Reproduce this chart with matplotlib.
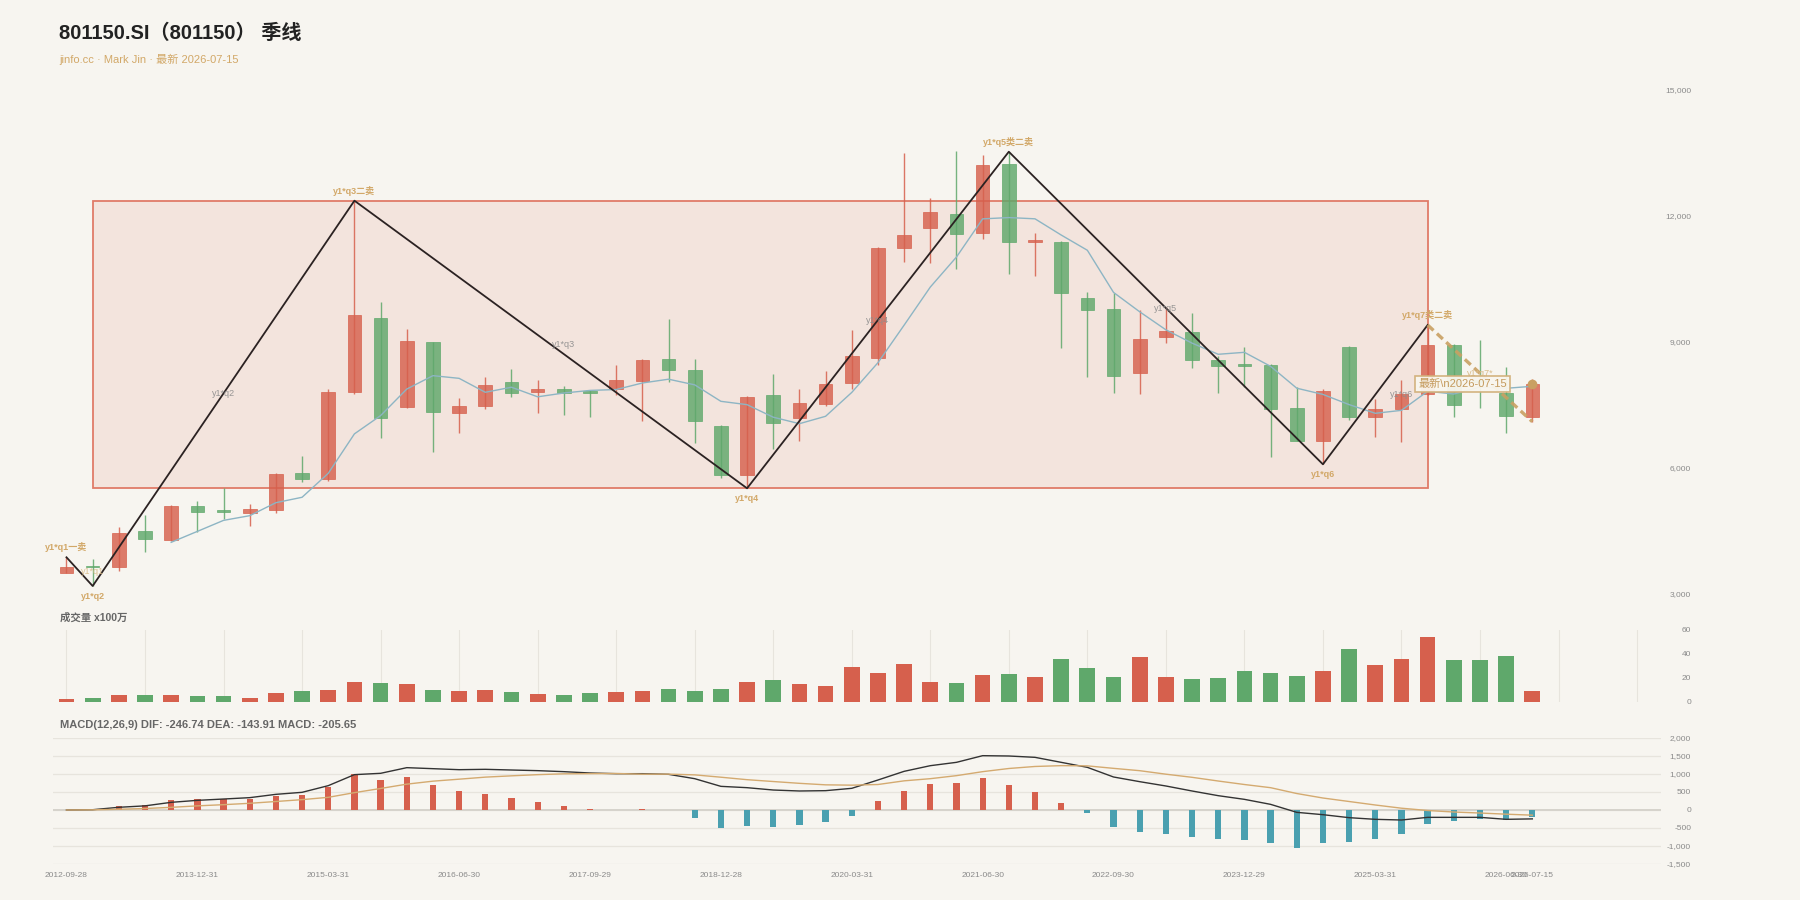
import numpy as np
import pandas as pd
import matplotlib
matplotlib.use('Agg')
import matplotlib.pyplot as plt
from matplotlib.patches import Rectangle
from matplotlib.ticker import FuncFormatter

plt.rcParams['font.family'] = ['Liberation Sans', 'Noto Sans CJK SC']

# ---------------- data ----------------
title = '801150.SI（801150） 季线'
subtitle = 'jinfo.cc · Mark Jin · 最新 2026-07-15'
latest_date = '2026-07-15'

opens = [3504, 3660, 3633, 4490, 4283, 5092, 4975, 4918, 4996, 5870,
         5742, 7797, 9557, 7456, 8987, 7298, 7471, 8035, 7804, 7869,
         7836, 7869, 8073, 8582, 8328, 6995, 5829, 7733, 7193, 7519,
         8011, 8621, 11231, 11714, 12040, 11595, 13222, 11374, 11381, 10034,
         9772, 8249, 9106, 9232, 8566, 8440, 8447, 7431, 6638, 8882,
         7217, 7407, 7750, 8923, 8100, 7773, 7217]
highs = [3871, 3830, 4600, 4885, 5120, 5211, 5513, 5139, 5870, 6281,
         7869, 12357, 9939, 9311, 9000, 7654, 8154, 8352, 8090, 7947,
         7850, 8439, 8580, 9541, 8590, 7020, 7700, 8225, 7876, 8304,
         9280, 11262, 13484, 12428, 13540, 13444, 13522, 11581, 11400, 10177,
         10153, 9756, 9834, 9691, 8661, 8868, 8460, 7916, 7869, 8890,
         7630, 8090, 9399, 8935, 9034, 8407, 8106]
lows = [3490, 3188, 3545, 4005, 4260, 4481, 4775, 4623, 4932, 5663,
        5687, 7760, 6717, 7424, 6384, 6836, 7400, 7686, 7298, 7265,
        7217, 7740, 7115, 8035, 6598, 5765, 5513, 6448, 6638, 7478,
        7869, 8447, 10905, 10881, 10724, 11438, 10605, 10565, 8844, 8154,
        7773, 7757, 8963, 8375, 7773, 7931, 6250, 6640, 6084, 7138,
        6726, 6622, 7740, 7200, 7431, 6836, 7098]
closes = [3647, 3630, 4456, 4306, 5099, 4949, 4940, 5013, 5853, 5742,
          7797, 9637, 7186, 9011, 7336, 7478, 7979, 7788, 7869, 7788,
          7788, 8083, 8566, 8321, 7115, 5829, 7685, 7074, 7550, 7995,
          8668, 11224, 11540, 12080, 11571, 13206, 11381, 11391, 10153, 9756,
          8192, 9074, 9249, 8566, 8430, 8425, 7407, 6646, 7828, 7217,
          7391, 7757, 8916, 7500, 8050, 7241, 7995]
volumes = [2.2, 2.8, 5.3, 5.8, 5.6, 4.7, 4.7, 3.3, 7.2, 9.2,
           9.7, 16.9, 15.6, 14.7, 9.4, 8.9, 9.7, 7.8, 6.1, 5.8,
           7.2, 8.1, 8.9, 10.8, 8.9, 10.3, 16.9, 18.1, 15.0, 13.1,
           28.9, 23.9, 31.4, 16.4, 15.3, 22.5, 22.8, 20.8, 36.1, 27.8,
           20.3, 37.5, 20.3, 18.6, 19.7, 25.8, 23.9, 21.7, 25.6, 44.4,
           30.8, 36.1, 54.2, 35.3, 35.0, 38.3, 8.9]
dif = [0, 8, 75, 115, 213, 268, 305, 343, 435, 491,
       676, 982, 1019, 1176, 1148, 1120, 1130, 1111, 1093, 1065,
       1028, 1009, 1009, 991, 870, 657, 620, 555, 528, 537,
       602, 833, 1074, 1231, 1324, 1509, 1500, 1463, 1324, 1185,
       917, 787, 667, 528, 398, 296, 157, -65, -130, -213,
       -259, -278, -204, -204, -204, -259, -246.74]
dea = [0, 5, 20, 41, 74, 115, 148, 186, 236, 288,
       352, 482, 598, 718, 801, 856, 913, 949, 982, 1005,
       1010, 1014, 995, 996, 976, 911, 842, 791, 741, 699,
       690, 708, 810, 870, 954, 1065, 1153, 1209, 1232, 1226,
       1157, 1092, 995, 908, 805, 708, 620, 458, 333, 236,
       139, 50, -14, -56, -84, -116, -143.91]
macd_hist = [0, 6, 111, 148, 278, 306, 315, 315, 398, 407,
             648, 1000, 843, 917, 694, 528, 435, 324, 222, 120,
             37, -10, 28, -10, -213, -509, -444, -472, -426, -324,
             -176, 250, 528, 722, 741, 889, 694, 509, 185, -83,
             -481, -611, -657, -759, -815, -824, -926, -1046, -926, -898,
             -796, -657, -380, -296, -241, -287, -205.65]

tick_idx = [0, 5, 10, 15, 20, 25, 30, 35, 40, 45, 50, 55, 56]
tick_labels = ['2012-09-28', '2013-12-31', '2015-03-31', '2016-06-30', '2017-09-29',
               '2018-12-28', '2020-03-31', '2021-06-30', '2022-09-30', '2023-12-29',
               '2025-03-31', '2026-06-30', '2026-07-15']

# zigzag (笔) turning points
zz_idx = [0, 1, 11, 26, 36, 48, 52]
zz_kind = ['high', 'low', 'high', 'low', 'high', 'low', 'high']
zz_point_labels = ['y1*q1一卖', 'y1*q2', 'y1*q3二卖', 'y1*q4', 'y1*q5类二卖', 'y1*q6', 'y1*q7类二卖']
seg_labels = ['y1*q1', 'y1*q2', 'y1*q3', 'y1*q4', 'y1*q5', 'y1*q6']
seg_label_idx = [1, 6, 19, 31, 42, 51]
# projected last stroke
proj_label = 'y1*q7*'
proj_end_idx = 56
# pivot zone (中枢)
zs_start, zs_end = 1, 52
zs_low_idx, zs_high_idx = 26, 11

# ---------------- style ----------------
BG = '#f7f5f0'
RED = '#d6604d'
GREEN = '#5fa86b'
TAN = '#d2a868'
GRID = '#e7e4dd'
AX_TXT = '#8a8a8a'

n = len(closes)
x = np.arange(n)
zz_price = [highs[i] if k == 'high' else lows[i] for i, k in zip(zz_idx, zz_kind)]
ma5 = pd.Series(closes).rolling(5).mean()

fig = plt.figure(figsize=(18, 9), dpi=100, facecolor=BG)
L = 53.4 / 1800
W = (1660.6 - 53.4) / 1800
XLIM = (-0.5, 60.9)

def fy(top, bottom):
    return [L, 1 - bottom / 900, W, (bottom - top) / 900]

ax_p = fig.add_axes(fy(80, 600))
ax_v = fig.add_axes(fy(630, 701.7))
ax_m = fig.add_axes(fy(738, 864))

for ax in (ax_p, ax_v, ax_m):
    ax.set_facecolor('none')
    for s in ax.spines.values():
        s.set_visible(False)
    ax.set_xlim(*XLIM)
    ax.yaxis.tick_right()
    ax.tick_params(axis='y', length=0, pad=22, labelsize=6, labelcolor=AX_TXT)
    ax.tick_params(axis='x', length=0)

# ---------------- price panel ----------------
ax_p.set_ylim(2855, 15229)
ax_p.set_xticks([])
ax_p.set_yticks([3000, 6000, 9000, 12000, 15000])
ax_p.yaxis.set_major_formatter(FuncFormatter(lambda v, p: f'{int(v):,}'))
plt.setp(ax_p.get_yticklabels(), ha='right')

zs_lo, zs_hi = lows[zs_low_idx], highs[zs_high_idx]
ax_p.add_patch(Rectangle((zs_start, zs_lo), zs_end - zs_start, zs_hi - zs_lo,
                         facecolor='#f3e4dd', edgecolor='#e07b68', lw=1.3, zorder=0))

cols = [RED if c >= o else GREEN for o, c in zip(opens, closes)]
ax_p.vlines(x, lows, highs, colors=cols, lw=1.0, alpha=0.85, zorder=2)
body_bot = [min(o, c) for o, c in zip(opens, closes)]
body_h = [max(abs(c - o), 45) for o, c in zip(opens, closes)]
ax_p.bar(x, body_h, bottom=body_bot, width=0.52, color=cols, alpha=0.82,
         edgecolor=cols, linewidth=0.6, zorder=3)

ax_p.plot(x, ma5, color='#8db5c4', lw=1.0, zorder=4)

ax_p.plot(zz_idx, zz_price, color='#2b2222', lw=1.3, zorder=5)

for i, p, k, lab in zip(zz_idx, zz_price, zz_kind, zz_point_labels):
    off = 7.2 if k == 'high' else -7.2
    ax_p.annotate(lab, (i, p), xytext=(0, off), textcoords='offset points',
                  ha='center', va='center', fontsize=6.5, fontweight='bold',
                  color=TAN, zorder=7)

for j, (lab, xi) in enumerate(zip(seg_labels, seg_label_idx)):
    ym = (zz_price[j] + zz_price[j + 1]) / 2
    c = '#d9bb88' if j == 0 else '#8c8c8c'
    ax_p.text(xi, ym, lab, ha='center', va='center', fontsize=6.5, color=c,
              alpha=0.9, zorder=6)

# projected stroke
p0 = zz_price[-1]
p1 = lows[proj_end_idx]
ax_p.plot([zz_idx[-1], proj_end_idx], [p0, p1], color='#c9a062', lw=2.4,
          linestyle=(0, (2.4, 1.4)), alpha=0.9, zorder=6)
ax_p.text((zz_idx[-1] + proj_end_idx) / 2, (p0 + p1) / 2, proj_label, ha='center',
          va='center', fontsize=6.5, color='#d9bb88', zorder=6)

ax_p.plot([n - 1], [closes[-1]], 'o', color='#c9a062', ms=6, zorder=8)
ax_p.text(n - 1 - 2.67, closes[-1], '最新\\n' + latest_date, ha='center', va='center',
          fontsize=8, color='#c49a5c', zorder=9,
          bbox=dict(boxstyle='square,pad=0.3', fc='#f9f6ee', ec='#d2b07a', lw=1.2,
                    alpha=0.95))

# ---------------- volume panel ----------------
ax_v.set_ylim(0, 60)
ax_v.set_yticks([0, 20, 40, 60])
plt.setp(ax_v.get_yticklabels(), ha='right')
ax_v.set_xticks(np.arange(0, 61, 3))
ax_v.set_xticklabels([])
ax_v.grid(axis='x', color=GRID, lw=0.8)
ax_v.set_axisbelow(True)
ax_v.bar(x, volumes, width=0.6, color=cols, zorder=3)

# ---------------- MACD panel ----------------
ax_m.set_ylim(-1500, 2000)
ax_m.set_yticks(np.arange(-1500, 2001, 500))
ax_m.yaxis.set_major_formatter(FuncFormatter(lambda v, p: f'{int(v):,}'))
plt.setp(ax_m.get_yticklabels(), ha='right')
ax_m.grid(axis='y', color=GRID, lw=0.9)
ax_m.set_axisbelow(True)
ax_m.axhline(0, color='#d6d3cc', lw=1.4, zorder=1)
hcols = [RED if h >= 0 else '#4aa0b0' for h in macd_hist]
ax_m.bar(x, macd_hist, width=0.24, color=hcols, zorder=2)
ax_m.plot(x, dif, color='#333333', lw=1.0, zorder=3)
ax_m.plot(x, dea, color='#d4aa70', lw=1.0, zorder=3)
ax_m.set_xticks(tick_idx)
ax_m.set_xticklabels(tick_labels)
ax_m.tick_params(axis='x', pad=6, labelsize=6, labelcolor=AX_TXT)

# ---------------- texts ----------------
fig.text(59.3 / 1800, 1 - 33.3 / 900, title, fontsize=14.5, fontweight='bold',
         color='#222222', va='center', ha='left')
fig.text(59.3 / 1800, 1 - 59.3 / 900, subtitle, fontsize=8, color=TAN,
         va='center', ha='left')
fig.text(59.6 / 1800, 1 - 617.3 / 900, '成交量 x100万', fontsize=7.5,
         fontweight='bold', color='#666666', va='center', ha='left')
fig.text(59.7 / 1800, 1 - 725 / 900,
         f'MACD(12,26,9) DIF: {dif[-1]:.2f} DEA: {dea[-1]:.2f} MACD: {macd_hist[-1]:.2f}',
         fontsize=8, fontweight='bold', color='#666666', va='center', ha='left')

fig.savefig('out.png', dpi=100, facecolor=BG)
